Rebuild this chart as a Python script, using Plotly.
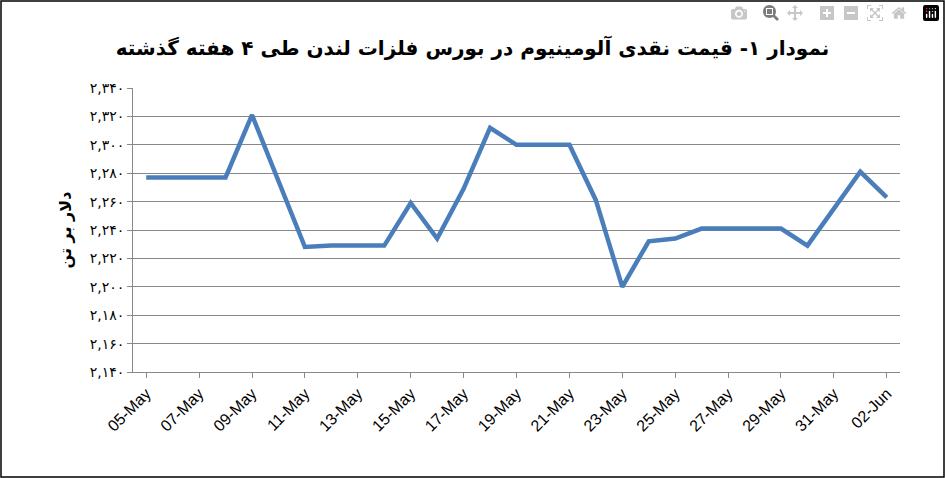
import plotly.graph_objects as go

dates = ["05-May", "06-May", "07-May", "08-May", "09-May", "10-May", "11-May", "12-May",
         "13-May", "14-May", "15-May", "16-May", "17-May", "18-May", "19-May", "20-May",
         "21-May", "22-May", "23-May", "24-May", "25-May", "26-May", "27-May", "28-May",
         "29-May", "30-May", "31-May", "01-Jun", "02-Jun"]
prices = [2277, 2277, 2277, 2277, 2321, 2275, 2228, 2229, 2229, 2229, 2259, 2234, 2269, 2312,
          2300, 2300, 2300, 2261, 2200, 2232, 2234, 2241, 2241, 2241, 2241, 2229, 2255, 2281, 2263]

y_ticks = list(range(2140, 2341, 20))
fa = str.maketrans("0123456789", "۰۱۲۳۴۵۶۷۸۹")
y_text = [f"{v:,}".translate(fa) for v in y_ticks]

fig = go.Figure(go.Scatter(x=dates, y=prices, mode="lines",
                           line=dict(color="#4a7ebb", width=4.5)))

W, H = 945, 478
l, r, t, b = 133, 45, 88, 106
pw, ph = W - l - r, H - t - b

fig.update_layout(
    width=W, height=H, margin=dict(l=l, r=r, t=t, b=b),
    plot_bgcolor="white", paper_bgcolor="white", showlegend=False,
    font=dict(family="DejaVu Sans", color="black"),
    title=dict(text="<b>نمودار ۱- قیمت نقدی آلومینیوم در بورس فلزات لندن طی ۴ هفته گذشته</b>",
               x=0.5, y=0.915, xanchor="center", font=dict(size=20)),
    xaxis=dict(type="category", range=[-0.5, 28.5], tickvals=dates[::2],
               tickangle=-45, tickfont=dict(size=16, family="Liberation Sans"),
               showgrid=False, showline=True, linecolor="#888", ticks="outside",
               ticklen=5, tickcolor="#888"),
    yaxis=dict(range=[2140, 2340], tickvals=y_ticks, ticktext=y_text,
               tickfont=dict(size=14), showgrid=True, gridcolor="#888", gridwidth=1,
               showline=True, linecolor="#888", ticks="outside", ticklen=5,
               tickcolor="#888", zeroline=False,
               title=dict(text="<b>دلار بر تن</b>", font=dict(size=16), standoff=14)),
    shapes=[dict(type="rect", xref="paper", yref="paper",
                 x0=(-l + 1) / pw, x1=1 + (r - 1) / pw,
                 y0=(-b + 1) / ph, y1=1 + (t - 1) / ph,
                 line=dict(color="black", width=1.5))],
)

fig.write_html("out.html", post_script="document.body.style.margin='0';")
